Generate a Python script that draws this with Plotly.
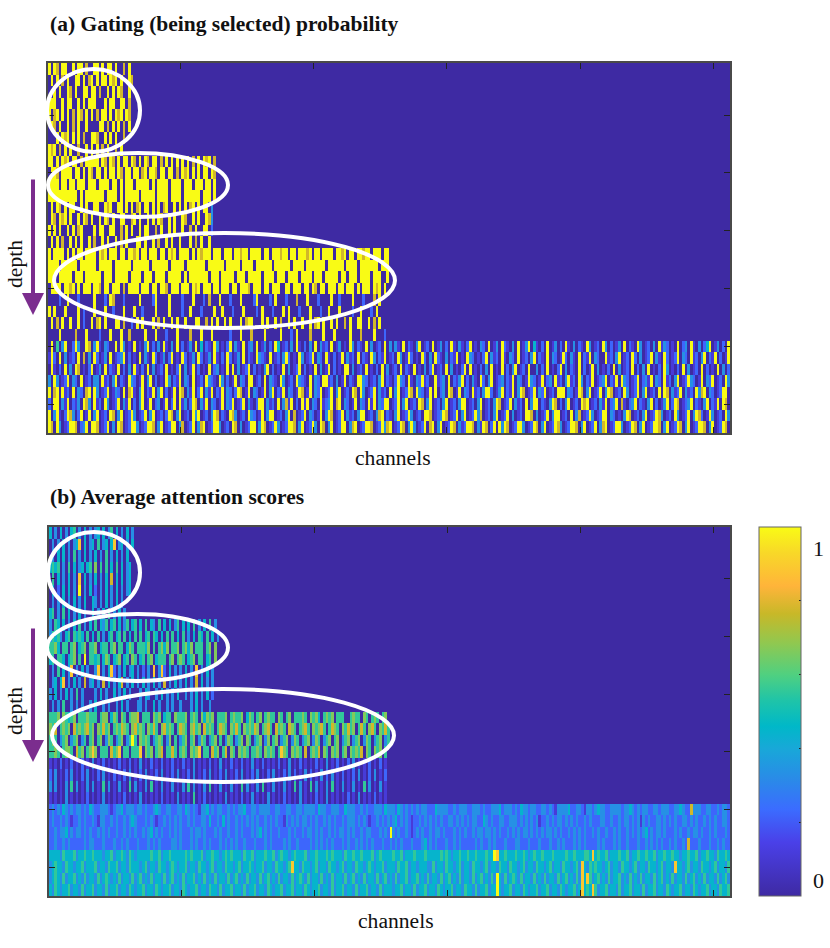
import numpy as np
import plotly.graph_objects as go

gating_rows = [
"9097099009099070 0990909909007090",
"0909070900990907 9090990979090097",
"0090900970900990 9907009090970090",
"9990090990090909 9900090990099070",
"9079090907097090 9070990909790970",
"0970900907090090 0009907090907090",
"0009097909090700 9970090909007000",
"9790709090070090 9090709007090000",
"9909097909907099 9990970970909909 7090970990709090 9090907090979070",
"0997099990990909 7099090990970990 9907909970990990 7097909090990970",
"9999099099099909 9909999099090999 0999990909999099 9909990999099090",
"9999999999909099 9999909999090999 9909999909999099 9909999990999090",
"0909709099009090 0990097900990909 0790990909079009 0909079090990300",
"0970979090090970 9009097090099007 9090090909700909 0097009090097300",
"9090900909079000 0909900990070909 0090990070900909 0090070900990200",
"0909070090909009 0700909009070900 0990900907009090 0900090709009000",
"9099990909099099 9909790999099099 7909909990990979 0999909097999099 9099909979909999 0990999799099099 9790990999909979 0990997990999099",
"9999099999909999 9909999909999990 9999990999999099 9990999999909999 9909999909999099 9999099999909999 0999999909999990 9999099999990999",
"9990999990999099 9999099909999909 9990999099990999 9909099999990999 0999990999099999 0999909990999909 9990999099999099 0999099990999009",
"0999909979090999 0997099099907099 9909990990997099 9099909790999099 0999099099970999 0990999009909990 9909709909990990 9990909990979090",
"0000200900020000 0900020970002000 0090000290000900 0020009000207000 9000200090000290 0002090002000700 0900020000900200 0090002000709000",
"9090009000090200 0900090020009000 9002000090000900 0020090002000090 0900020009000020 9000200090900020 0090002009000900 0020090002090000",
"0907090090090200 9079090009907002 0909000907090090 9009000990070909 0090900090799000 9090090700909009 0090790900909007 0900990090709000",
"0000900000700090 0002000900090070 0000900090002000 9000070009000900 0000200090007000 0900000900020900 0070000900090000 0900070000900020",
"0905039002930097 0391032009093010 9010390203091030 9020130904021093 0102903109023090 1302094012030910 2030903120901301 0930210903012090 3031090210390120 9013020910310290 1032090130921030 9013904102090130 2091030210930120 9302013090210930 1203091320109023 0910302490130209",
"1920903012090703 0920130901239020 1090310920130290 1092013092013091 0209201309021093 2109012039201093 0129032091020190 3120902109302190 1209301920109203 0921030219010932 0102903120910320 9012039021090320 1920310902190320 0912039012092030 1290310920129032 0912039021902019",
"0910209030970102 9013090210902030 9102090301209010 2903019020109023 0109090301290201 0390201090301290 2010903019020109 9030120901020903 0120902109010302 9012090301029090 1020309010902039 0120900302090102 9030210902019030 1020903012090203 0901020930102090 3012090201090302",
"3093012903209012 0330912039021093 2019039020109302 1903209012093210 9302019032099012 0903210930120932 1090320991203019 0210993201203902 1029320910329120 0912309021390203 1092039012302190 3201932019023091 2039120930219012 3902190932012902 3190320912039012 9320190329012093",
"9079091209032079 0930129013209079 1039021903902019 0970319029031902 1903202970190320 1903902190320197 0190329012903901 2097093012903120 9039012970932019 0902309701903209 1203992013902190 3970129032901209 9903201970390129 0397012093012903 9012090970312903 1209379032012990",
"2099031902130973 0912093012903190 2039019023019029 0913029703190320 1903290129031029 9031209037190209 1903209123907903 2019032091903299 0129039012097039 0120390120399012 0390120397012903 1209039902103970 2039012097901203 1902390710239021 0390201390297012 3902103902190970",
"9039102973029019 0390120970390129 3012903901202970 3901209390120397 0210973012093201 9039901203907012 9032019039701290 3120399012037902 1039012930120997 0123970129039012 9370120390129030 1209970301290399 0120903701293012 9903201039701203 9012973012093012 9039720193012093",
"9709301299702390 9970129030970129 9301299703901299 0370129037901299 3012097030129903 9701293012997039 0129309703901299 0379012997012937 9012970393012907 9039012970312997 0319702909397012 9930129703901297 3012997039012903 7901299301297039 0129970390129703 9012997039012970",
]

attention_rows = [
"4030403045030403 0340403504030403",
"0303040303480403 4050340480340304",
"0304040305030403 0403050304030400",
"4545030504034045 0605050405040340",
"0504030403080403 0403040704040340",
"0402040403090304 0203040304030340",
"0303040304030400 4303040304030000",
"4503050403040300 4030405030403000",
"3054040304050304 0504350450403504 5040504305040403 5040405030405030",
"3545304505454050 4050304504505040 5050450540405050 4050304054050403",
"5564055056045605 5604550560550465 0555460505646055 6056460555056060",
"4505540456050905 5450465045604506 5045056045550560 5650456055045060",
"0305040380304030 0380304820304034 0302030803820403 0304030803040300",
"0340480304030703 4030704030470304 0304030403070304 0304030704030300",
"3040304030503000 0304030040304030 0030430030403030 4003030403040200",
"0303050030303003 0400303003040300 0330300403003030 0300030403003000",
"5556065456055565 5505660465065056 6705550656045506 5556056506465605 5560565560465056 0565506505605556 5065640565605550 0565506505650560",
"6570565607565675 6065756056576506 7565065750675650 5765067560756505 7650657506565760 5675075650765056 7506567505765065 7560575067506575",
"5650356035603505 6056036503560359 5065650356503605 0356056036503560 5036503560650356 0360560356036503 5603650356056035 6035603650356035",
"5565056650756056 8605550756805505 5580656056705575 0565065680550756 0570650656505565 0656505865065650 7056570650656056 0656570650656050",
"1010201020102010 3010201010201020 1030102010201020 1020103010102010 3010201020103010 2010102010301020 1010201030102010 2030101020102010",
"2030102030102030 1020301020102030 1020301020301020 3010203010203010 2030102030102030 1020301020302010 3020103020301020 1020301020301020",
"3030103050301030 3010503010301050 3010305010301030 1030503010305010 3010301050301030 5010301030105030 1050301030501030 1030105030103010",
"1010103010101020 1010301010102010 1030101010201010 3010105010201010 1030101020103010 1030101020101030 1010201030101010 2010301010201010",
"2323243232332324 3223332123342333 2332322343223322 3324323213342323 3223232334223323 3332233223322332 3333243322333224 3332232322333243 3324323232323322 2433332232333223 3323223334233323 2433233223323213 3334223321332343 3223333233432323 3223323332233432 2733322332232332",
"2322323212232322 3213322323223234 3222323212232323 2322323223324223 2423223232323232 2323232213232323 3232322323232232 3332323212232323 2342323212232323 2323223323232323 3224323223322333 2323232312232323 3232323223232223 3223223233232313 2322332323232233 2323223232322332",
"2232334232332323 2232323223223232 3223234232322323 2322232332322232 3223223232223234 2323223222323223 2332323223232332 3232232332223232 9323223212323223 2332322232323223 2332332323223232 3233232323233232 3223232323223232 2322323223232323 4232332322232322 3233232232322232",
"2232232322222323 3222322232232322 2322232323222233 2322232322323222 3232323223222322 2323222232322322 2232323232322232 3223232323222322 3232322232223423 2322232232322222 3232232322232223 3222322232223223 2322232323222232 3222323223222322 3232323223232232 7222322232232322",
"4444354445344544 5444344534454354 3444445445344544 4445454445344544 3454544435445344 4544534544345444 5344544454544435 4454454445345444 4544534445444544 4445454344544544 5444544984454445 4454345445444544 4454454445548454 4534445445344544 5445344544544344 5445344544354454",
"3454435443445344 4534435445344354 4434534435443454 3445344354434534 4354434534454344 5344354434584435 4434534435443453 4435443454344534 4435445344344433 5344354434534435 4434534435443544 3453443544345344 3544345384354544 3453443544345344 3544345344384434 5344354434534435",
"3454353445343534 4353454343534435 3453435344353453 4353445343534353 4435345343534435 3453435344353454 3534435343534435 3453435344353453 4353445344534353 4435345343534435 3453435394353454 3534435343534435 3453435384853453 4353445343534353 4435345343534435 3453435344353453",
"4354344534435344 5344353445344354 3445344354344534 4354344534435443 5344534435344534 4354344534453443 5434453443534453 4435344534435344 4344534435344534 4354344534435443 5344534494344534 4354344534453443 5434453484548534 4534435344534435 3445344354344534 4354344534435445",
]

def row_to_channels(text):
    digits = text.replace(" ", "")
    return [int(c) / 9 for c in digits for _ in range(2)]

def to_matrix(rows):
    out = np.zeros((len(rows), 512))
    for i, r in enumerate(rows):
        vals = row_to_channels(r)[:512]
        out[i, :len(vals)] = vals
    return out

channels = list(range(1, 513))
depths = list(range(1, 33))

colorscale = [
    [0.0, "#3e2aa3"], [0.145, "#4a40e8"], [0.235, "#3b6cff"], [0.315, "#2a8ae8"],
    [0.40, "#18a8d8"], [0.46, "#00b8c8"], [0.53, "#1fc4a8"], [0.60, "#50d080"],
    [0.685, "#90c850"], [0.765, "#c8b828"], [0.84, "#ffb43a"], [0.93, "#f8d828"],
    [1.0, "#f9fb15"],
]

W, H = 830, 948
px = lambda x: x / W
py = lambda y: 1 - y / H

fig = go.Figure()
fig.add_trace(go.Heatmap(z=to_matrix(gating_rows), x=channels, y=depths, coloraxis="coloraxis", xaxis="x", yaxis="y"))
fig.add_trace(go.Heatmap(z=to_matrix(attention_rows), x=channels, y=depths, coloraxis="coloraxis", xaxis="x2", yaxis="y2"))

axis_style = dict(showline=True, mirror="ticks", linecolor="#4a4a4a", linewidth=1.5, ticks="inside",
                  ticklen=6, tickcolor="#222222", showticklabels=False, showgrid=False, zeroline=False)
xticks = [100, 200, 300, 400, 500]
yticks = [5, 10, 15, 20, 25, 30]

def shape_ellipse(x0, x1, y0, y1):
    return dict(type="circle", xref="paper", yref="paper", x0=px(x0), x1=px(x1), y0=py(y1), y1=py(y0),
                line=dict(color="white", width=4), layer="above")

shapes = [
    shape_ellipse(47, 140, 69, 152), shape_ellipse(48, 228, 153, 217), shape_ellipse(54, 395, 233, 328),
    shape_ellipse(48, 140, 532, 613), shape_ellipse(47, 228, 614, 681), shape_ellipse(52, 394, 689, 782),
]

serif = "Liberation Serif"
def label(text, x, y, size=21.6, bold=False, angle=0, anchor="center"):
    return dict(text=f"<b>{text}</b>" if bold else text, x=px(x), y=py(y), xref="paper", yref="paper",
                showarrow=False, xanchor=anchor, yanchor="middle", textangle=angle,
                font=dict(family=serif, size=size, color="#111111"))

def arrow(x, y0, y1):
    return dict(x=px(x), y=py(y1), ax=0, ay=y0 - y1, xref="paper", yref="paper", axref="pixel", ayref="pixel",
                text="", showarrow=True, arrowhead=2, arrowsize=1.1, arrowwidth=4, arrowcolor="#7b2d8e")

annotations = [
    label("(a) Gating (being selected) probability", 48, 24, 21.5, True, anchor="left"),
    label("(b) Average attention scores", 48, 497, 21.5, True, anchor="left"),
    label("channels", 393, 458), label("channels", 396, 921),
    label("depth", 15, 264, angle=-90), label("depth", 15, 711, angle=-90),
    label("1", 818, 548, 22), label("0", 818, 880, 22),
    arrow(33, 178, 315), arrow(33, 627, 762),
]

fig.update_layout(
    width=W, height=H, autosize=False, margin=dict(l=0, r=0, t=0, b=0),
    paper_bgcolor="white", plot_bgcolor="#3e2aa3", showlegend=False,
    xaxis=dict(domain=[px(48), px(730)], range=[0.5, 512.5], tickvals=xticks, anchor="y", **axis_style),
    yaxis=dict(domain=[py(433), py(63)], range=[32.5, 0.5], tickvals=yticks, anchor="x", **axis_style),
    xaxis2=dict(domain=[px(49), px(730)], range=[0.5, 512.5], tickvals=xticks, anchor="y2", **axis_style),
    yaxis2=dict(domain=[py(896), py(527)], range=[32.5, 0.5], tickvals=yticks, anchor="x2", **axis_style),
    coloraxis=dict(colorscale=colorscale, cmin=0, cmax=1, colorbar=dict(
        x=px(759), xanchor="left", y=py(896), yanchor="bottom", len=369 / H, lenmode="fraction",
        thickness=42, thicknessmode="pixels", xpad=0, ypad=0, outlinecolor="#666666", outlinewidth=1,
        ticks="inside", ticklen=2, tickcolor="#222222", tickvals=[0.2, 0.4, 0.6, 0.8], showticklabels=False)),
    shapes=shapes, annotations=annotations,
)
fig.write_html("out.html", config={"displayModeBar": False},
               post_script="document.body.style.margin='0';document.body.style.overflow='hidden';")
